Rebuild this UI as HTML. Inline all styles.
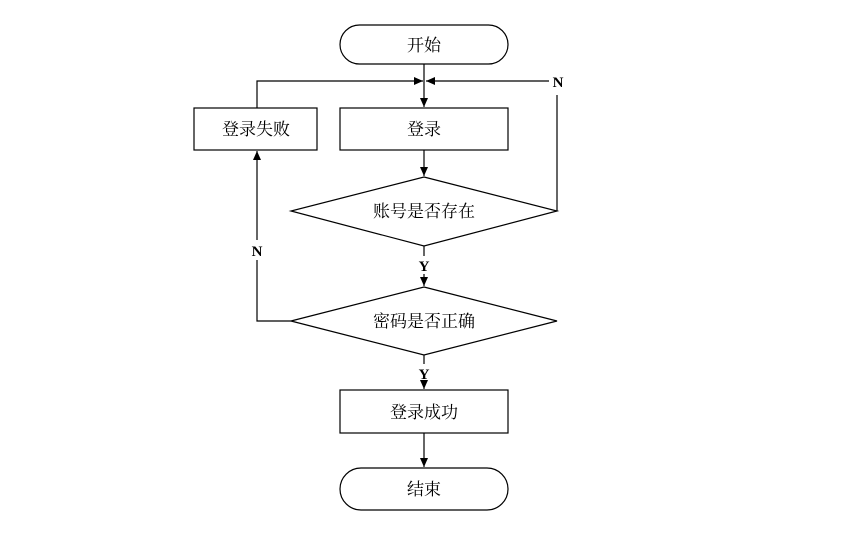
<!DOCTYPE html>
<html><head><meta charset="utf-8"><style>
body{margin:0;background:#fff;}
svg text{font-family:"Liberation Serif","Noto Serif CJK SC",serif;font-size:17px;fill:#000;}
</style></head><body>
<svg width="861" height="533" viewBox="0 0 861 533" xmlns="http://www.w3.org/2000/svg">
<defs><marker id="a" markerWidth="10" markerHeight="10" refX="9" refY="5" orient="auto" markerUnits="userSpaceOnUse"><path d="M0,1 L9,5 L0,9 z" fill="#000"/></marker></defs>
<g fill="none" stroke="#000" stroke-width="1.2">
<rect x="340" y="25" width="168" height="39" rx="19.5" fill="#fff"/>
<rect x="194" y="108" width="123" height="42"/>
<rect x="340" y="108" width="168" height="42"/>
<polygon points="424,177 557,211 424,246 291,211"/>
<polygon points="424,287 557,321 424,355 291,321"/>
<rect x="340" y="390" width="168" height="43"/>
<rect x="340" y="468" width="168" height="42" rx="21"/>
<line x1="424" y1="64" x2="424" y2="107" marker-end="url(#a)"/>
<polyline points="257,108 257,81 423,81" marker-end="url(#a)"/>
<polyline points="557,211 557,95"/>
<polyline points="549,81 426,81" marker-end="url(#a)"/>
<line x1="424" y1="150" x2="424" y2="176" marker-end="url(#a)"/>
<line x1="424" y1="246" x2="424" y2="256"/>
<line x1="424" y1="274" x2="424" y2="286" marker-end="url(#a)"/>
<polyline points="291,321 257,321 257,260"/>
<line x1="257" y1="240" x2="257" y2="151" marker-end="url(#a)"/>
<line x1="424" y1="355" x2="424" y2="364"/>
<line x1="424" y1="382" x2="424" y2="389" marker-end="url(#a)"/>
<line x1="424" y1="433" x2="424" y2="467" marker-end="url(#a)"/>
</g>
<g text-anchor="middle">
<text x="424" y="51">开始</text>
<text x="256" y="135">登录失败</text>
<text x="424" y="135">登录</text>
<text x="424" y="217">账号是否存在</text>
<text x="424" y="327">密码是否正确</text>
<text x="424" y="418">登录成功</text>
<text x="424" y="495">结束</text>
<text x="558" y="87" font-weight="bold" style="font-size:15px">N</text>
<text x="257" y="256" font-weight="bold" style="font-size:15px">N</text>
<text x="424" y="271" font-weight="bold" style="font-size:15px">Y</text>
<text x="424" y="379" font-weight="bold" style="font-size:15px">Y</text>
</g>
</svg>
</body></html>
